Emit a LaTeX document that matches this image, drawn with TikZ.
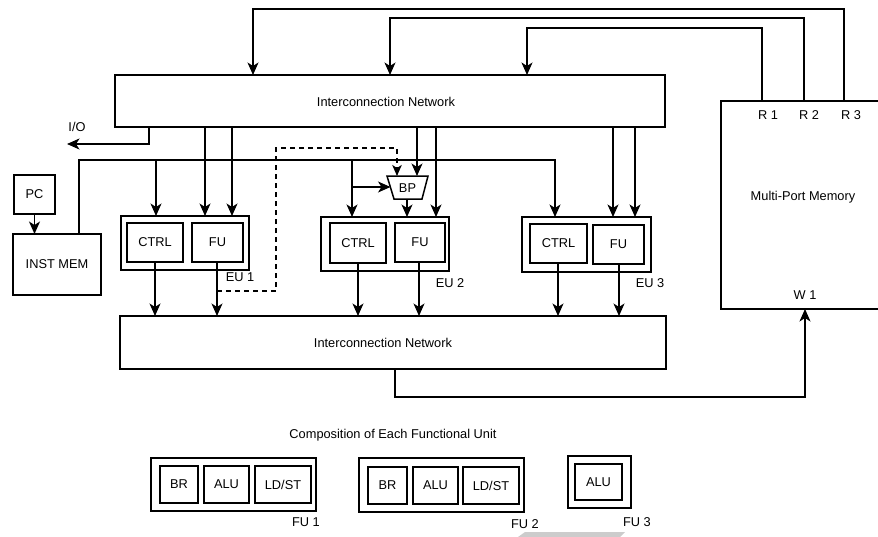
\documentclass[tikz,border=0pt]{standalone}
\usepackage{fontspec}
\setmainfont{Liberation Sans}
\usetikzlibrary{arrows.meta}
\begin{document}
\begin{tikzpicture}[x=1pt,y=-1pt,
  every node/.style={font=\fontsize{12.8}{15}\selectfont},
  box/.style={draw,line width=1.5pt,rectangle,inner sep=0pt,outer sep=0pt},
  lbl/.style={inner sep=0pt},
  line/.style={line width=1.5pt},
  arr/.style={line width=1.5pt,-{Stealth[length=12.5pt,width=11pt,inset=3.5pt]}},
  dsh/.style={line width=1.5pt,dash pattern=on 5pt off 4pt,-{Stealth[length=11pt,width=9.5pt,inset=3pt]}}]
\useasboundingbox (0,0) rectangle (878,536);

% main blocks
\node[box,minimum width=550,minimum height=52] (topIN) at (390,101) {};
\node[lbl] (topINlbl) at (386,102) {Interconnection Network};
\node[box,minimum width=546,minimum height=53] (botIN) at (393,342.5) {};
\node[lbl] (botINlbl) at (383,343) {Interconnection Network};
\node[box,minimum width=169,minimum height=208] (mem) at (805.5,205) {};
\node[lbl] (memlbl) at (803,197) {Multi-Port Memory};
\node[lbl] (R1) at (768,115) {R 1};
\node[lbl] (R2) at (809,115) {R 2};
\node[lbl] (R3) at (851,115) {R 3};
\node[lbl] (W1) at (805,295) {W 1};
\node[box,minimum width=41,minimum height=39] (pc) at (34.5,194.5) {PC};
\node[box,minimum width=88,minimum height=61] (imem) at (57,264.5) {INST MEM};

% execution units
\node[box,minimum width=128,minimum height=54] (eu1) at (185,243) {};
\node[box,minimum width=56,minimum height=39] (ctrl1) at (155,242.5) {CTRL};
\node[box,minimum width=51,minimum height=39] (fu1) at (217.5,242.5) {FU};
\node[lbl] (eu1lbl) at (240,277) {EU 1};

\node[box,minimum width=128,minimum height=54] (eu2) at (385,244) {};
\node[box,minimum width=56,minimum height=40] (ctrl2) at (358,243) {CTRL};
\node[box,minimum width=50,minimum height=39] (fu2) at (420,242.5) {FU};
\node[lbl] (eu2lbl) at (450,283) {EU 2};

\node[box,minimum width=129,minimum height=55] (eu3) at (586.5,244.5) {};
\node[box,minimum width=57,minimum height=39] (ctrl3) at (558.5,243.5) {CTRL};
\node[box,minimum width=51,minimum height=39] (fu3) at (618.5,244.5) {FU};
\node[lbl] (eu3lbl) at (650,283) {EU 3};

% branch predictor
\draw[line,line join=miter] (387,176) -- (428,176) -- (422,199) -- (394,199) -- cycle;
\node[lbl] (bp) at (407.5,188) {BP};
\coordinate (bpN1) at (397,176);
\coordinate (bpN2) at (417,176);
\coordinate (bpW) at (390.5,187);
\coordinate (bpS) at (407,199);

% memory ports
\coordinate (r1) at (762,0 |- mem.north);
\coordinate (r2) at (804,0 |- mem.north);
\coordinate (r3) at (844,0 |- mem.north);
\coordinate (w1) at (805,0 |- mem.south);

% feedback from memory read ports
\draw[arr] (r3) |- (253,9) -- (253,0 |- topIN.north);
\draw[arr] (r2) |- (390,18) -- (390,0 |- topIN.north);
\draw[arr] (r1) |- (527,28) -- (527,0 |- topIN.north);

% I/O
\draw[arr] (149,0 |- topIN.south) |- (67,144);
\node[lbl] (io) at (77,127) {I/O};

% PC -> INST MEM
\draw[arr] (pc.south) -- (imem.north -| pc.south);

% instruction bus
\draw[arr] (79,0 |- imem.north) |- (555,160) -- (555,0 |- eu3.north);
\draw[arr] (156,160) -- (156,0 |- eu1.north);
\draw[arr] (352,160) -- (352,0 |- eu2.north);
\draw[arr] (352,187) -- (bpW);

% interconnect -> units
\draw[arr] (205,0 |- topIN.south) -- (205,0 |- eu1.north);
\draw[arr] (232,0 |- topIN.south) -- (232,0 |- eu1.north);
\draw[arr] (417,0 |- topIN.south) -- (bpN2);
\draw[arr] (436,0 |- topIN.south) -- (436,0 |- eu2.north);
\draw[arr] (613,0 |- topIN.south) -- (613,0 |- eu3.north);
\draw[arr] (635,0 |- topIN.south) -- (635,0 |- eu3.north);
\draw[arr] (bpS) -- (407,0 |- eu2.north);

% units -> bottom interconnect
\draw[arr] (155,0 |- ctrl1.south) -- (155,0 |- botIN.north);
\draw[arr] (217,0 |- fu1.south) -- (217,0 |- botIN.north);
\draw[arr] (358,0 |- ctrl2.south) -- (358,0 |- botIN.north);
\draw[arr] (419,0 |- fu2.south) -- (419,0 |- botIN.north);
\draw[arr] (558,0 |- ctrl3.south) -- (558,0 |- botIN.north);
\draw[arr] (619,0 |- fu3.south) -- (619,0 |- botIN.north);

% dashed branch feedback
\draw[dsh] (217,291) -- (276,291) -- (276,148) -- (397,148) -- (bpN1);

% write-back
\draw[arr] (395,0 |- botIN.south) |- (805,397) -- (w1);

% composition
\node[lbl] (title) at (393,435) {Composition of Each Functional Unit};

\node[box,minimum width=165,minimum height=53] (g1) at (233.5,484.5) {};
\node[box,minimum width=38,minimum height=37] (g1br) at (179,484.5) {BR};
\node[box,minimum width=45,minimum height=37] (g1alu) at (226.5,484.5) {ALU};
\node[box,minimum width=56,minimum height=37] (g1ld) at (283,484.5) {LD/ST};
\node[lbl] (g1lbl) at (306,522) {FU 1};

\node[box,minimum width=165,minimum height=54] (g2) at (441.5,485) {};
\node[box,minimum width=39,minimum height=37] (g2br) at (387.5,485.5) {BR};
\node[box,minimum width=45,minimum height=37] (g2alu) at (435.5,485.5) {ALU};
\node[box,minimum width=56,minimum height=37] (g2ld) at (491,485.5) {LD/ST};
\node[lbl] (g2lbl) at (525,524) {FU 2};

\node[box,minimum width=63,minimum height=52] (g3) at (599.5,482) {};
\node[box,minimum width=47,minimum height=36] (g3alu) at (598.5,482) {ALU};
\node[lbl] (g3lbl) at (637,522) {FU 3};

% faint grey artefact at the bottom edge
\fill[black!20] (518,537) -- (525,532) -- (625,532) -- (620,537) -- cycle;
\end{tikzpicture}
\end{document}
